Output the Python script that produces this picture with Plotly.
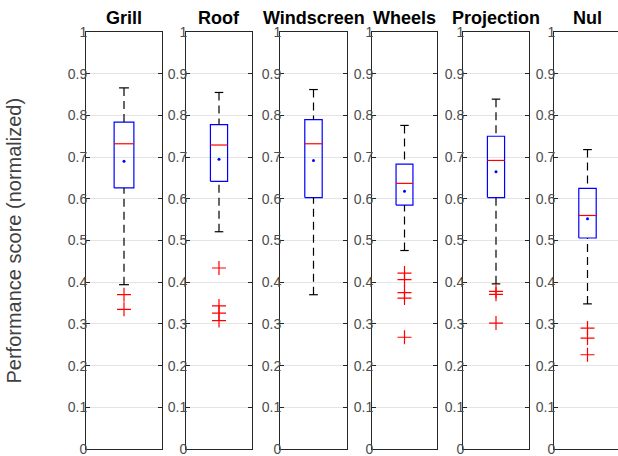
import plotly.graph_objects as go

# ---------------- data ----------------
categories = ["Grill", "Roof", "Windscreen", "Wheels", "Projection", "Nul"]
upper_whisker = [0.866, 0.855, 0.862, 0.776, 0.839, 0.718]
q3_values = [0.784, 0.778, 0.790, 0.683, 0.750, 0.625]
median_values = [0.732, 0.729, 0.732, 0.637, 0.692, 0.560]
mean_values = [0.690, 0.695, 0.692, 0.618, 0.665, 0.552]
q1_values = [0.626, 0.642, 0.603, 0.585, 0.603, 0.506]
lower_whisker = [0.394, 0.521, 0.370, 0.476, 0.396, 0.348]
outliers = [
    [0.370, 0.335],
    [0.434, 0.343, 0.326, 0.308],
    [],
    [0.422, 0.406, 0.375, 0.362, 0.268],
    [0.378, 0.371, 0.302],
    [0.290, 0.266, 0.226],
]
y_tick_values = [0, 0.1, 0.2, 0.3, 0.4, 0.5, 0.6, 0.7, 0.8, 0.9, 1]
y_tick_labels = ["0", "0.1", "0.2", "0.3", "0.4", "0.5", "0.6", "0.7", "0.8", "0.9", "1"]
y_label = "Performance score (normalized)"

# ---------------- style / layout ----------------
W, H = 618, 456
panel_px = [(86, 162), (186, 252), (280, 347), (372, 437), (463, 529), (554, 621)]
BOX_HW = 0.13
CAP_HW = 0.065
POS = 1.0
BLUE = "#0000ff"
RED = "#ff0000"
AXC = "#262626"
TICKC = "#4d4d4d"
FONT = "Liberation Sans, Arial, sans-serif"

fig = go.Figure()
layout = dict(
    width=W, height=H,
    margin=dict(l=0, r=0, t=32, b=7, autoexpand=False),
    paper_bgcolor="white", plot_bgcolor="white",
    showlegend=False,
    font=dict(family=FONT, color=TICKC),
)
annotations = []

for i, cat in enumerate(categories):
    n = i + 1
    xa = "x" if n == 1 else f"x{n}"
    ya = "y" if n == 1 else f"y{n}"
    left, right = panel_px[i]
    vis_right = min(right, W)
    full_w = right - left
    rng_hi = 0.5 + (vis_right - left) / full_w
    c = POS

    # box
    fig.add_trace(go.Scatter(
        x=[c - BOX_HW, c + BOX_HW, c + BOX_HW, c - BOX_HW, c - BOX_HW],
        y=[q1_values[i], q1_values[i], q3_values[i], q3_values[i], q1_values[i]],
        mode="lines", line=dict(color=BLUE, width=1.2),
        xaxis=xa, yaxis=ya, hoverinfo="skip"))
    # whiskers (dashed)
    fig.add_trace(go.Scatter(
        x=[c, c], y=[upper_whisker[i], q3_values[i]],
        mode="lines", line=dict(color="black", width=1.2, dash="8px,5px"),
        xaxis=xa, yaxis=ya, hoverinfo="skip"))
    fig.add_trace(go.Scatter(
        x=[c, c], y=[lower_whisker[i], q1_values[i]],
        mode="lines", line=dict(color="black", width=1.2, dash="8px,5px"),
        xaxis=xa, yaxis=ya, hoverinfo="skip"))
    # caps
    for v in (upper_whisker[i], lower_whisker[i]):
        fig.add_trace(go.Scatter(
            x=[c - CAP_HW, c + CAP_HW], y=[v, v],
            mode="lines", line=dict(color="black", width=1.2),
            xaxis=xa, yaxis=ya, hoverinfo="skip"))
    # median
    fig.add_trace(go.Scatter(
        x=[c - BOX_HW, c + BOX_HW], y=[median_values[i], median_values[i]],
        mode="lines", line=dict(color=RED, width=1.2),
        xaxis=xa, yaxis=ya, hoverinfo="skip"))
    # mean
    fig.add_trace(go.Scatter(
        x=[c], y=[mean_values[i]], mode="markers",
        marker=dict(color=BLUE, size=3, symbol="circle"),
        xaxis=xa, yaxis=ya, hoverinfo="skip"))
    # outliers
    if outliers[i]:
        fig.add_trace(go.Scatter(
            x=[c] * len(outliers[i]), y=outliers[i], mode="markers",
            marker=dict(color=RED, size=10, symbol="cross-thin-open",
                        line=dict(color=RED, width=1.2)),
            xaxis=xa, yaxis=ya, hoverinfo="skip"))

    xkey = "xaxis" if n == 1 else f"xaxis{n}"
    ykey = "yaxis" if n == 1 else f"yaxis{n}"
    layout[xkey] = dict(
        domain=[left / W, vis_right / W], range=[0.5, rng_hi],
        anchor=ya, showgrid=False, zeroline=False, showticklabels=False,
        ticks="", showline=True, linecolor=AXC, linewidth=1,
        mirror=True, fixedrange=True, automargin=False)
    layout[ykey] = dict(
        domain=[0, 1], range=[0, 1], anchor=xa,
        tickvals=y_tick_values, ticktext=y_tick_labels,
        ticks="inside", ticklen=4, tickcolor=AXC, tickwidth=1,
        showline=True, linecolor=AXC, linewidth=1,
        mirror=("allticks" if right <= W else False),
        showgrid=True, gridcolor="#e4e4e4", gridwidth=1,
        zeroline=False, tickfont=dict(family=FONT, size=14, color=TICKC),
        ticklabelstandoff=-5, ticklabeloverflow="allow",
        fixedrange=True, automargin=False)
    annotations.append(dict(
        text=f"<b>{cat}</b>", x=(left + right) / 2 / W, y=1,
        xref="paper", yref="paper", xanchor="center", yanchor="bottom",
        yshift=3, showarrow=False, borderpad=0,
        font=dict(family=FONT, size=18, color="black")))

annotations.append(dict(
    text=y_label, x=13 / W, y=0.5, xref="paper", yref="paper",
    xanchor="center", yanchor="middle", textangle=-90, showarrow=False,
    font=dict(family=FONT, size=20, color="#404040")))

layout["annotations"] = annotations
fig.update_layout(**layout)
fig.write_html("out.html", config={"displayModeBar": False},
               post_script="document.body.style.margin='0';")
